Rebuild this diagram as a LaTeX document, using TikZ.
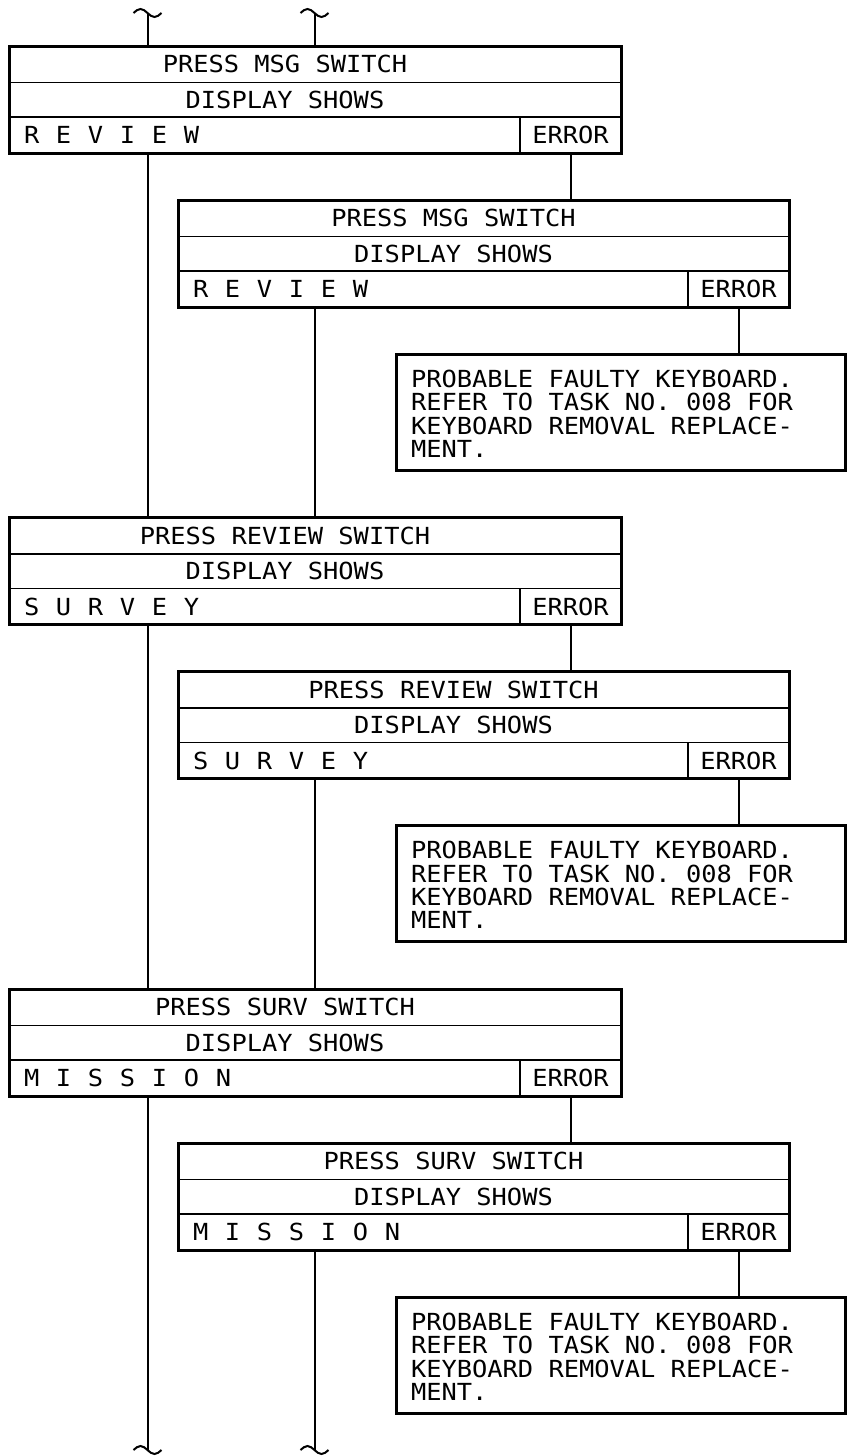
\documentclass[tikz,border=0pt]{standalone}
\usepackage{fontspec}
\setmonofont[FakeStretch=1.08]{DejaVu Sans Mono}
\usetikzlibrary{fit,calc}
\newcommand{\ls}[1]{\makebox[32pt][l]{#1}}
\tikzset{
  every node/.style={font=\ttfamily\fontsize{23.5}{23.3}\selectfont},
  row/.style={draw, line width=1.6pt, inner sep=0pt, outer sep=0pt, anchor=north west},
  frame/.style={draw, line width=3pt, inner sep=0pt, outer sep=0pt},
  txt/.style={inner sep=0pt, outer sep=0pt},
  link/.style={line width=2pt},
  note/.style={draw, line width=3pt, inner sep=0pt, outer sep=0pt, anchor=north west,
    minimum width=449pt, minimum height=116pt},
}
\newcommand{\qbox}[6]{%
  \node[row, minimum width=#4pt, minimum height=36.5pt] (#1t) at (#2,#3) {};
  \node[row, minimum width=#4pt, minimum height=34.5pt] (#1d) at (#1t.south west) {};
  \node[row, minimum width=#4pt-101pt, minimum height=36pt] (#1a) at (#1d.south west) {};
  \node[row, minimum width=101pt, minimum height=36pt] (#1e) at (#1a.north east) {};
  \node[frame, fit=(#1t)(#1e)] (#1) {};
  \node[txt] (#1tt) at ([xshift=-30pt]#1t.center) {#5};
  \node[txt] (#1dt) at ([xshift=-30pt]#1d.center) {DISPLAY SHOWS};
  \node[txt, anchor=west] (#1at) at ([xshift=15pt]#1a.west) {#6};
  \node[txt] (#1et) at (#1e.center) {ERROR};
}
\newcommand{\qnote}[3]{%
  \node[note] (#1) at (#2,#3) {};
  \node[txt, anchor=north west, align=left] (#1t) at ([xshift=15pt,yshift=-16pt]#1.north west)
    {PROBABLE FAULTY KEYBOARD.\\REFER TO TASK NO. 008 FOR\\KEYBOARD REMOVAL REPLACE-\\MENT.};
}
\begin{document}
\begin{tikzpicture}[x=1pt,y=-1pt]
\useasboundingbox (0,0) rectangle (847,1456);

\qbox{b1}{9}{46}{612}{PRESS MSG SWITCH}{\ls{R}\ls{E}\ls{V}\ls{I}\ls{E}\ls{W}}
\qbox{b2}{178}{200}{611}{PRESS MSG SWITCH}{\ls{R}\ls{E}\ls{V}\ls{I}\ls{E}\ls{W}}
\qnote{n1}{396}{354}
\qbox{b3}{9}{517.5}{612}{PRESS REVIEW SWITCH}{\ls{S}\ls{U}\ls{R}\ls{V}\ls{E}\ls{Y}}
\qbox{b4}{178}{671.5}{611}{PRESS REVIEW SWITCH}{\ls{S}\ls{U}\ls{R}\ls{V}\ls{E}\ls{Y}}
\qnote{n2}{396}{825.5}
\qbox{b5}{9}{989}{612}{PRESS SURV SWITCH}{\ls{M}\ls{I}\ls{S}\ls{S}\ls{I}\ls{O}\ls{N}}
\qbox{b6}{178}{1143}{611}{PRESS SURV SWITCH}{\ls{M}\ls{I}\ls{S}\ls{S}\ls{I}\ls{O}\ls{N}}
\qnote{n3}{396}{1297}

\coordinate (tl) at (147.5,13);
\coordinate (tr) at (314.5,13);
\coordinate (bl) at (147.5,1450);
\coordinate (br) at (314.5,1450);

% break marks
\foreach \c in {tl,tr,bl,br}{
  \draw[link] ([xshift=-14pt]\c) sin ([xshift=-7pt,yshift=4pt]\c) cos (\c)
    sin ([xshift=7pt,yshift=-4pt]\c) cos ([xshift=14pt]\c);
}

% main flow lines
\draw[link] (tl) -- (tl |- b1.north);
\draw[link] (tr) -- (tr |- b1.north);
\draw[link] (tl |- b1.south) -- (tl |- b3.north);
\draw[link] (tl |- b3.south) -- (tl |- b5.north);
\draw[link] (tl |- b5.south) -- (bl);
\draw[link] (tr |- b2.south) -- (tr |- b3.north);
\draw[link] (tr |- b4.south) -- (tr |- b5.north);
\draw[link] (tr |- b6.south) -- (br);

% error branches
\draw[link] (b1e.south) -- (b1e.south |- b2.north);
\draw[link] (b2e.south) -- (b2e.south |- n1.north);
\draw[link] (b3e.south) -- (b3e.south |- b4.north);
\draw[link] (b4e.south) -- (b4e.south |- n2.north);
\draw[link] (b5e.south) -- (b5e.south |- b6.north);
\draw[link] (b6e.south) -- (b6e.south |- n3.north);
\end{tikzpicture}
\end{document}
